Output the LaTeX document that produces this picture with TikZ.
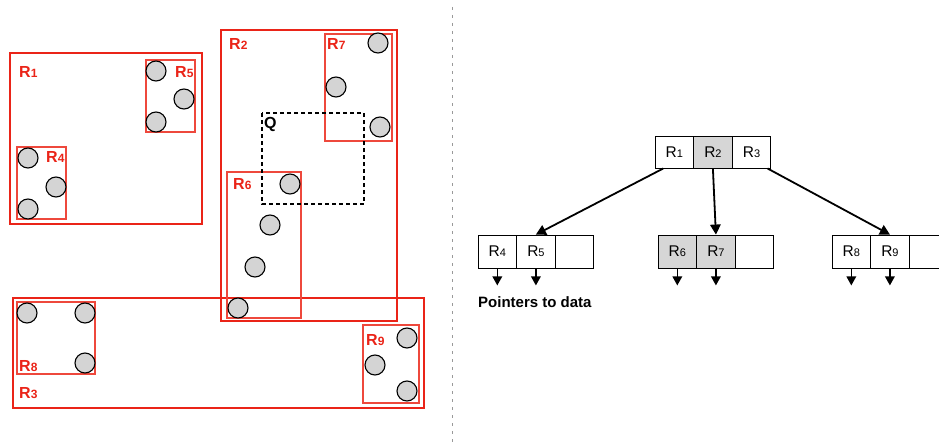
\documentclass[tikz,border=0pt]{standalone}
\usepackage{fontspec}
\setmainfont{Liberation Sans}
\usetikzlibrary{arrows.meta}
\definecolor{rred}{RGB}{234,36,24}
\definecolor{lred}{RGB}{238,72,60}
\definecolor{dotfill}{RGB}{212,212,212}
\definecolor{cellgray}{RGB}{214,214,214}
\newcommand\RL[1]{R{\fontsize{12}{12}\selectfont #1}}
\newcommand\RC[1]{R{\fontsize{11}{11}\selectfont #1}}
\begin{document}
\begin{tikzpicture}[x=1pt,y=-1pt,
  bigbox/.style={draw=rred,line width=2.2pt},
  smallbox/.style={draw=lred,line width=1.1pt},
  pt/.style={circle,draw=black,fill=dotfill,line width=1.1pt,minimum size=20pt,inner sep=0pt},
  rlabel/.style={text=rred,font=\fontsize{16}{16}\selectfont\bfseries,anchor=base west,inner sep=0pt},
  cell/.style={draw=black,line width=0.9pt,minimum width=38.6pt,minimum height=33pt,inner sep=0pt,font=\fontsize{15.5}{15.5}\selectfont},
  ptr/.style={-{Triangle[length=9pt,width=9.5pt]},line width=1.6pt},
  tptr/.style={-{Triangle[length=10pt,width=10.5pt]},line width=1.8pt},
  ]
\useasboundingbox (0,0) rectangle (939,444);

% divider
\draw[gray!80,line width=1.4pt,dash pattern=on 3pt off 5pt] (452.5,7) coordinate (dtop) -- (452.5,444) coordinate (dbot);

% big boxes
\draw[bigbox] (10,53) rectangle (202,224);
\draw[bigbox] (221,30) rectangle (397,321);
\draw[bigbox] (13,298) rectangle (424,408);

% small boxes
\draw[smallbox] (146,60) rectangle (195,132);
\draw[smallbox] (17,147) rectangle (66,219);
\draw[smallbox] (325,34) rectangle (392,141);
\draw[smallbox] (227,172) rectangle (301,318);
\draw[smallbox] (17,302) rectangle (95,374);
\draw[smallbox] (363,325) rectangle (419,403);

% query box
\draw[black,line width=1.7pt,dash pattern=on 4pt off 3pt] (262,113) rectangle (364,204);

% labels
\node[rlabel] (lR1) at (19,77.5) {\RL{1}};
\node[rlabel] (lR5) at (175,77.5) {\RL{5}};
\node[rlabel] (lR4) at (46,162) {\RL{4}};
\node[rlabel] (lR2) at (229,49.5) {\RL{2}};
\node[rlabel] (lR7) at (327,49.5) {\RL{7}};
\node[rlabel,text=black] (lQ) at (264,128) {Q};
\node[rlabel] (lR6) at (233,189.5) {\RL{6}};
\node[rlabel] (lR3) at (19,398.5) {\RL{3}};
\node[rlabel] (lR8) at (19,371.5) {\RL{8}};
\node[rlabel] (lR9) at (366,345.5) {\RL{9}};

% points
\node[pt] (p51) at (156,71) {};
\node[pt] (p52) at (184,99) {};
\node[pt] (p53) at (156,122) {};
\node[pt] (p41) at (28,158) {};
\node[pt] (p42) at (56,187) {};
\node[pt] (p43) at (28,209) {};
\node[pt] (p71) at (378,43) {};
\node[pt] (p72) at (336,87) {};
\node[pt] (p73) at (380,127) {};
\node[pt] (p61) at (290,184) {};
\node[pt] (p62) at (270,225) {};
\node[pt] (p63) at (255,267) {};
\node[pt] (p64) at (238,308) {};
\node[pt] (p81) at (27,313) {};
\node[pt] (p82) at (85,313) {};
\node[pt] (p83) at (85,363) {};
\node[pt] (p91) at (407,338) {};
\node[pt] (p92) at (375,365) {};
\node[pt] (p93) at (407,391) {};

% tree: root
\node[cell,minimum height=32pt] (r1) at (674.3,152) {\RC{1}};
\node[cell,minimum height=32pt,fill=cellgray] (r2) at (712.9,152) {\RC{2}};
\node[cell,minimum height=32pt] (r3) at (751.5,152) {\RC{3}};

% leaves
\node[cell] (a1) at (497.3,251.5) {\RC{4}};
\node[cell] (a2) at (535.9,251.5) {\RC{5}};
\node[cell] (a3) at (574.5,251.5) {};
\node[cell,fill=cellgray] (b1) at (677.3,251.5) {\RC{6}};
\node[cell,fill=cellgray] (b2) at (715.9,251.5) {\RC{7}};
\node[cell] (b3) at (754.5,251.5) {};
\node[cell] (c1) at (851.3,251.5) {\RC{8}};
\node[cell] (c2) at (889.9,251.5) {\RC{9}};
\node[cell] (c3) at (928.5,251.5) {};

% root to leaves
\draw[tptr] ([xshift=-11pt]r1.south) -- (a2.north);
\draw[tptr] (r2.south) -- (b2.north);
\draw[tptr] ([xshift=16pt]r3.south) -- (c2.north);

% pointers to data
\foreach \c in {a1,a2,b1,b2,c1,c2}{
  \path (\c.south) ++(0,17) coordinate (\c d);
  \draw[ptr] (\c.south) -- (\c d);
}
\node[anchor=west,inner sep=0pt,font=\fontsize{15}{15}\selectfont\bfseries] (ptrtxt) at (478,302) {Pointers to data};
\end{tikzpicture}
\end{document}
